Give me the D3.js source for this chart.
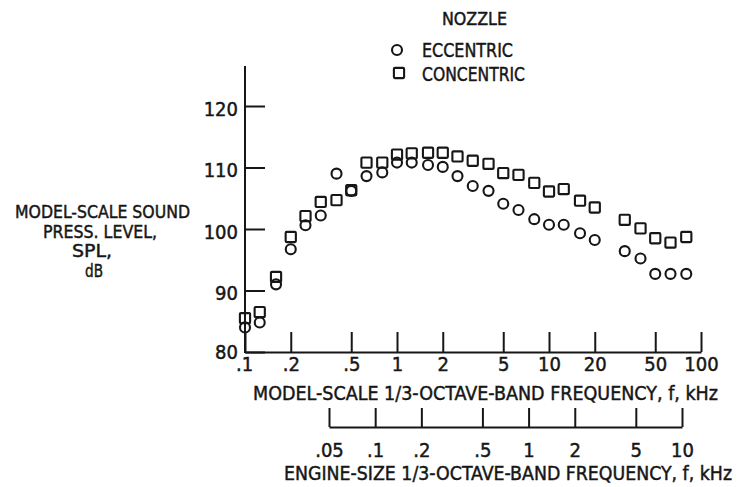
<!DOCTYPE html>
<html>
<head>
<meta charset="utf-8">
<script src="https://cdn.jsdelivr.net/npm/d3@7"></script>
<style>
  html, body { margin: 0; padding: 0; background: #fff; }
  svg { display: block; }
  text { font-family: "Liberation Sans Narrow", "DejaVu Sans Condensed", "Arial Narrow", sans-serif; fill: #161616; stroke: #161616; stroke-width: 0.45px; }
</style>
</head>
<body>
<svg id="chart" width="741" height="487"></svg>
<script>
// ---- data ----
const freqKHz = [0.1, 0.125, 0.16, 0.2, 0.25, 0.315, 0.4, 0.5, 0.63, 0.8, 1, 1.25, 1.6, 2, 2.5, 3.15, 4, 5, 6.3, 8, 10, 12.5, 16, 20, 31.5, 40, 50, 63, 80];
const eccentric = [84.0, 84.8, 91.0, 96.7, 100.6, 102.2, 109.0, 106.2, 108.6, 109.2, 110.8, 110.8, 110.4, 110.1, 108.6, 107.0, 106.2, 104.1, 103.1, 101.6, 100.7, 100.7, 99.3, 98.2, 96.4, 95.2, 92.7, 92.7, 92.7];
const concentric = [85.5, 86.5, 92.2, 98.7, 102.1, 104.4, 104.7, 106.3, 110.8, 110.8, 112.1, 112.3, 112.4, 112.4, 111.8, 111.1, 110.6, 109.1, 108.8, 107.5, 106.1, 106.5, 104.6, 103.5, 101.5, 100.1, 98.5, 97.8, 98.7];
const modelTicks = [0.1, 0.2, 0.5, 1, 2, 5, 10, 20, 50, 100];
const engineTicks = [0.05, 0.1, 0.2, 0.5, 1, 2, 5, 10];
const splTicks = [80, 90, 100, 110, 120];
const yTitleLines = ["MODEL-SCALE SOUND", "PRESS. LEVEL,", "SPL,", "dB"];
const legendTitle = "NOZZLE";
const seriesNames = ["ECCENTRIC", "CONCENTRIC"];
const modelTitle = "MODEL-SCALE 1/3-OCTAVE-BAND FREQUENCY, f, kHz";
const engineTitle = "ENGINE-SIZE 1/3-OCTAVE-BAND FREQUENCY, f, kHz";

// ---- layout ----
const svg = d3.select("#chart");
const ink = "#161616";
const fs = 20;

const x = d3.scaleLog().domain([0.1, 100]).range([245, 701]);
const y = d3.scaleLinear().domain([80, 120]).range([352, 106]);
const xe = d3.scaleLog().domain([0.05, 10]).range([329, 682]);

const fmt = d => d < 1 ? String(d).replace(/^0/, "") : String(d);

// Y axis
const yAxis = svg.append("g").attr("transform", `translate(${x(0.1)},0)`)
  .call(d3.axisLeft(y).tickValues(splTicks).tickSize(-20).tickSizeOuter(0).tickPadding(7).tickFormat(d3.format("d")));
yAxis.select(".domain").remove();
yAxis.selectAll(".tick line").attr("stroke", ink).attr("stroke-width", 2);
yAxis.selectAll(".tick text").attr("font-size", fs).attr("dy", d => d === 80 ? "0.3em" : "0.45em")
  .attr("font-family", null).style("fill", ink);
svg.append("line")
  .attr("x1", x(0.1)).attr("x2", x(0.1))
  .attr("y1", y(80) + 1).attr("y2", y(126.5))
  .attr("stroke", ink).attr("stroke-width", 2);

// Model-scale X axis
const xAxis = svg.append("g").attr("transform", `translate(0,${y(80)})`)
  .call(d3.axisBottom(x).tickValues(modelTicks).tickSize(-20).tickSizeOuter(0).tickPadding(5).tickFormat(fmt));
xAxis.select(".domain").attr("stroke", ink).attr("stroke-width", 2);
xAxis.selectAll(".tick line").attr("stroke", ink).attr("stroke-width", 2);
xAxis.selectAll(".tick text").attr("font-size", fs).attr("font-family", null).style("fill", ink)
  .attr("dx", d => d === 0.1 ? -1 : 0);

svg.append("text").attr("x", 485.5).attr("y", 400).attr("text-anchor", "middle")
  .attr("font-size", fs).attr("textLength", 465).attr("lengthAdjust", "spacingAndGlyphs")
  .text(modelTitle);

// Engine-size X axis
const eAxis = svg.append("g").attr("transform", `translate(0,427)`)
  .call(d3.axisBottom(xe).tickValues(engineTicks).tickSize(-19).tickSizeOuter(0).tickPadding(15.5).tickFormat(fmt));
eAxis.select(".domain").attr("stroke", ink).attr("stroke-width", 2);
eAxis.selectAll(".tick line").attr("stroke", ink).attr("stroke-width", 2);
eAxis.selectAll(".tick text").attr("font-size", fs).attr("font-family", null).style("fill", ink);

svg.append("text").attr("x", 508).attr("y", 480).attr("text-anchor", "middle")
  .attr("font-size", 19.5).attr("textLength", 448).attr("lengthAdjust", "spacingAndGlyphs")
  .text(engineTitle);

// Y title
const yTitlePos = [[102.5, 218, 175], [100, 238, 114], [92, 257, 40], [94, 277, 18]];
svg.append("g").selectAll("text").data(yTitleLines).join("text")
  .attr("x", (d, i) => yTitlePos[i][0]).attr("y", (d, i) => yTitlePos[i][1])
  .attr("text-anchor", "middle").attr("font-size", 18.5)
  .attr("textLength", (d, i) => yTitlePos[i][2]).attr("lengthAdjust", "spacingAndGlyphs")
  .text(d => d);

// Data markers
const r = 5, side = 10.2, sw = 2.1;
svg.append("g").selectAll("rect").data(freqKHz).join("rect")
  .attr("x", (d) => x(d) - side / 2).attr("y", (d, i) => y(concentric[i]) - side / 2)
  .attr("width", side).attr("height", side).attr("rx", 1)
  .attr("fill", "none").attr("stroke", ink).attr("stroke-width", sw);
svg.append("g").selectAll("circle").data(freqKHz).join("circle")
  .attr("cx", d => x(d)).attr("cy", (d, i) => y(eccentric[i])).attr("r", r)
  .attr("fill", "none").attr("stroke", ink).attr("stroke-width", sw);

// Legend
svg.append("text").attr("x", 474.5).attr("y", 25).attr("text-anchor", "middle")
  .attr("font-size", 18.5).attr("textLength", 65).attr("lengthAdjust", "spacingAndGlyphs").text(legendTitle);
svg.append("circle").attr("cx", 397).attr("cy", 50).attr("r", r)
  .attr("fill", "none").attr("stroke", ink).attr("stroke-width", sw);
svg.append("rect").attr("x", 399 - side / 2).attr("y", 73 - side / 2).attr("width", side).attr("height", side).attr("rx", 1)
  .attr("fill", "none").attr("stroke", ink).attr("stroke-width", sw);
svg.append("text").attr("x", 422).attr("y", 56.5).attr("font-size", 19.5)
  .attr("textLength", 91).attr("lengthAdjust", "spacingAndGlyphs").text(seriesNames[0]);
svg.append("text").attr("x", 422).attr("y", 80.5).attr("font-size", 19.5)
  .attr("textLength", 103).attr("lengthAdjust", "spacingAndGlyphs").text(seriesNames[1]);
</script>
</body>
</html>
